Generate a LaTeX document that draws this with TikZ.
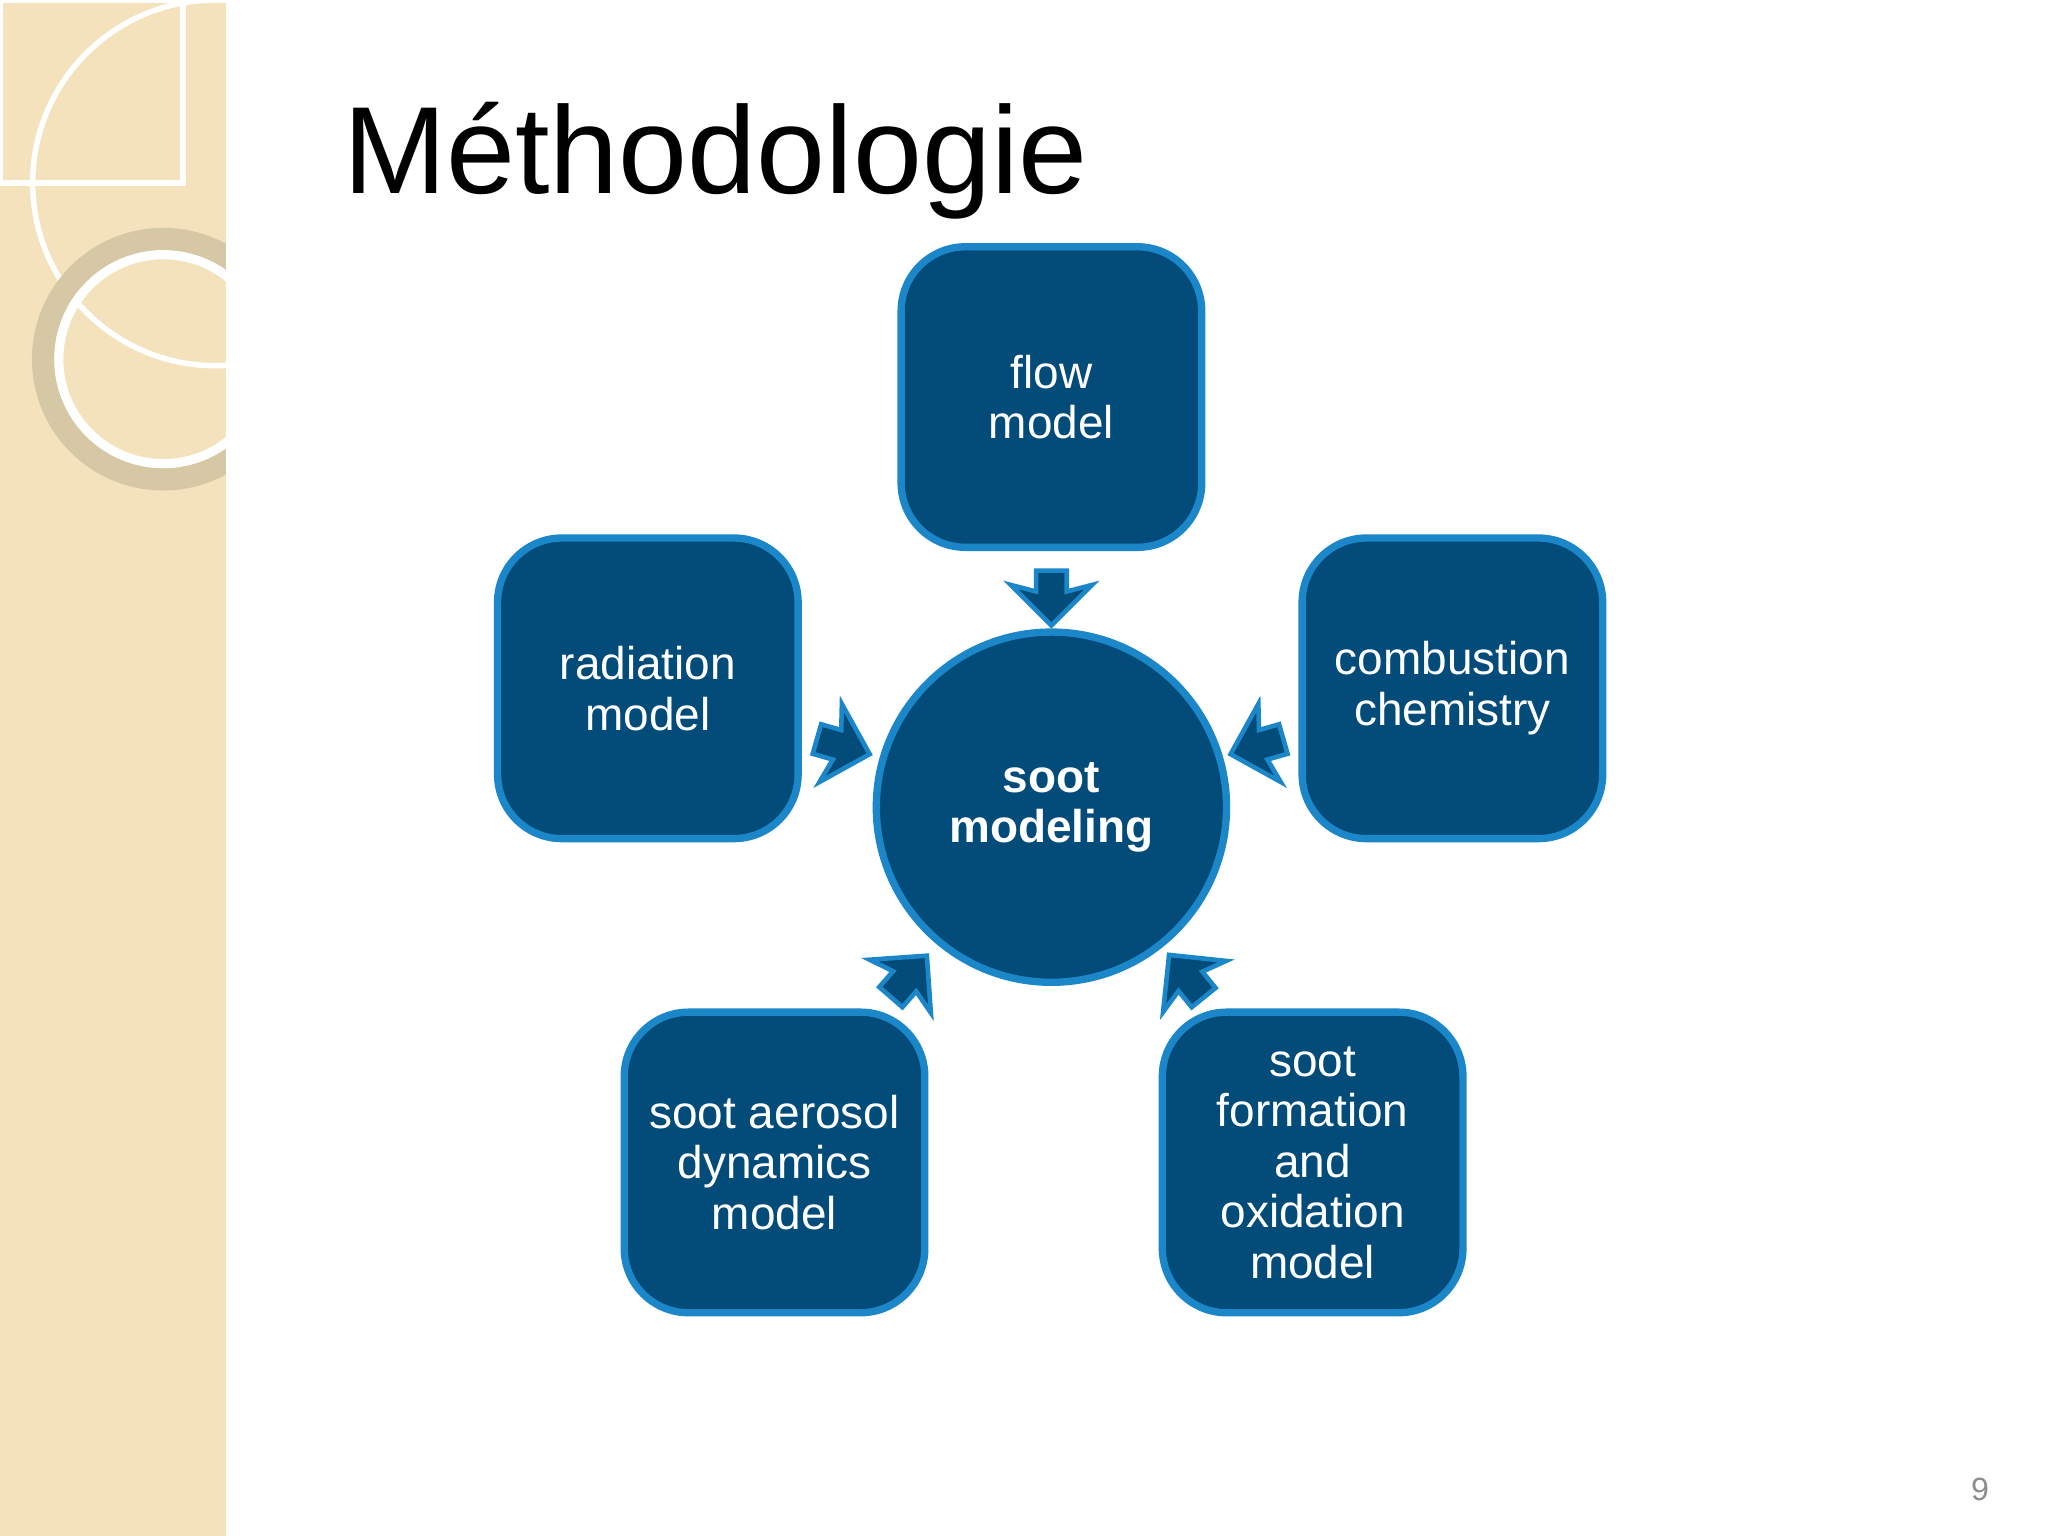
\documentclass[tikz,border=0pt]{standalone}
\usepackage{fontspec}
\setmainfont{Liberation Sans}
\usetikzlibrary{shapes.arrows,shadows}
\definecolor{boxfill}{HTML}{034C79}
\definecolor{boxline}{HTML}{1B86C8}
\definecolor{beige}{HTML}{F3E2BC}
\tikzset{
 box/.style={draw=boxline,line width=1.6pt,fill=boxfill,rounded corners=14pt,minimum width=2.3cm,minimum height=2.3cm,text=white,align=center,font=\fontsize{10}{11}\selectfont,drop shadow={opacity=0.15,shadow xshift=0.6pt,shadow yshift=-0.6pt}},
 barrow/.style={single arrow,draw=boxline,line width=1pt,fill=boxfill,minimum height=0.42cm,minimum width=0.62cm,single arrow head extend=0.16cm,single arrow head indent=0.05cm,inner sep=0.08cm}
}
\begin{document}
\begin{tikzpicture}[x=0.01cm,y=-0.01cm]
\useasboundingbox (0,0) rectangle (1568,1176);
\fill[white] (0,0) rectangle (1568,1176);
\fill[beige] (0,0) rectangle (173,1176);
\begin{scope}
\clip (0,0) rectangle (173,1176);
\draw[white,line width=1.2pt] (0,0) rectangle (140,140);
\draw[white,line width=1.2pt] (165,140) circle (140);
\draw[black!12!beige,line width=6pt] (125,275) circle (90);
\draw[white,line width=2pt] (125,275) circle (80);
\end{scope}
\node[anchor=base west,font=\fontsize{27}{32}\selectfont,inner sep=0pt] (title) at (262,148) {Méthodologie};
\node[box] (flow) at (805,304) {flow\\model};
\node[box] (rad) at (496,527) {radiation\\model};
\node[box] (comb) at (1112,527) {combustion\\chemistry};
\node[box] (aero) at (593,890) {soot aerosol\\dynamics\\model};
\node[box] (form) at (1005,890) {soot\\formation\\and\\oxidation\\model};
\node[circle,draw=boxline,line width=1.6pt,fill=boxfill,minimum size=2.68cm,text=white,align=center,font=\bfseries\fontsize{10}{11}\selectfont,drop shadow={opacity=0.15,shadow xshift=0.6pt,shadow yshift=-0.6pt}] (soot) at (805,618) {soot\\modeling};
\node[barrow,rotate=-90] (a1) at (805,452) {};
\node[barrow,rotate=-16] (a2) at (640,570) {};
\node[barrow,rotate=196] (a3) at (968,570) {};
\node[barrow,rotate=49] (a4) at (692,752) {};
\node[barrow,rotate=129] (a5) at (912,752) {};
\node[text=black!45,font=\fontsize{7}{8}\selectfont] (num) at (1516,1140) {9};
\end{tikzpicture}
\end{document}
